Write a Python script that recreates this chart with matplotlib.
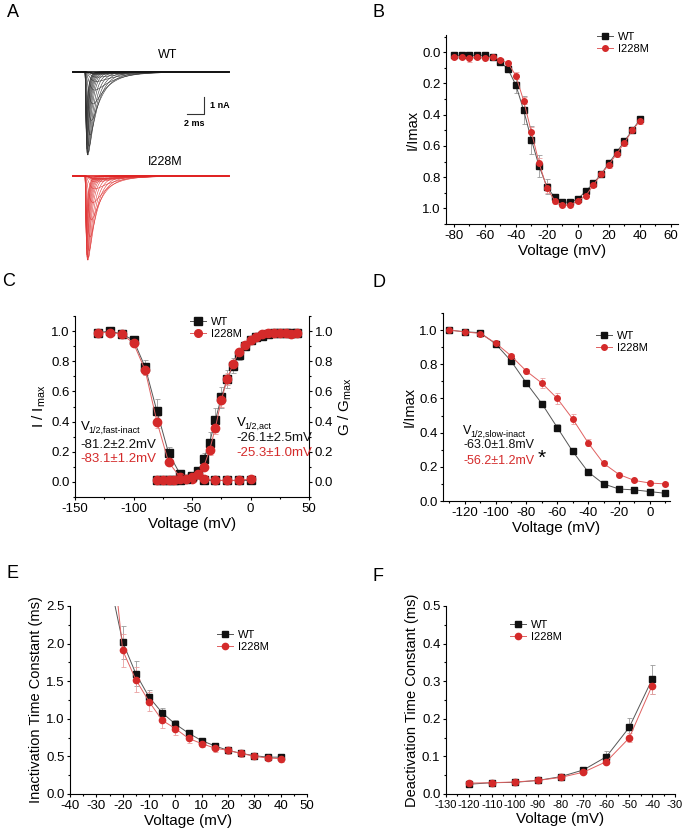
import matplotlib

matplotlib.use("Agg")
import matplotlib.pyplot as plt
import numpy as np
from matplotlib.lines import Line2D
from matplotlib.ticker import MultipleLocator

plt.rcParams["font.family"] = ["Liberation Sans", "DejaVu Sans"]
plt.rcParams["axes.unicode_minus"] = False

# ---- data -------------------------------------------------------------
# B: current-voltage relation (normalised, inward positive)
iv_v = [-80, -75, -70, -65, -60, -55, -50, -45, -40, -35, -30, -25, -20,
        -15, -10, -5, 0, 5, 10, 15, 20, 25, 30, 35, 40]
iv_wt = [0.02, 0.02, 0.02, 0.02, 0.02, 0.03, 0.06, 0.11, 0.21, 0.37, 0.56, 0.73, 0.86,
         0.93, 0.96, 0.96, 0.94, 0.89, 0.84, 0.78, 0.71, 0.64, 0.57, 0.50, 0.43]
iv_wt_err = [0.005, 0.005, 0.01, 0.005, 0.005, 0.005, 0.01, 0.02, 0.05, 0.09, 0.09, 0.07, 0.05,
             0.02, 0.01, 0.01, 0.01, 0.02, 0.02, 0.01, 0.01, 0.01, 0.01, 0.01, 0.01]
iv_mut = [0.03, 0.03, 0.04, 0.03, 0.04, 0.03, 0.05, 0.07, 0.15, 0.31, 0.51, 0.71, 0.87,
          0.95, 0.98, 0.98, 0.95, 0.92, 0.85, 0.78, 0.72, 0.65, 0.58, 0.50, 0.44]
iv_mut_err = [0.01, 0.01, 0.02, 0.01, 0.01, 0.01, 0.01, 0.01, 0.02, 0.02, 0.03, 0.03, 0.03,
              0.02, 0.01, 0.01, 0.01, 0.01, 0.01, 0.02, 0.02, 0.02, 0.02, 0.02, 0.02]

# A: raw current families, one sweep per voltage of the I-V protocol
imax_wt = 5.08   # nA
imax_mut = 5.04
tau_m = [0.5, 0.5, 0.5, 0.5, 0.5, 0.5, 0.5, 0.45, 0.4, 0.33, 0.27, 0.22, 0.18,
         0.15, 0.13, 0.11, 0.10, 0.09, 0.085, 0.08, 0.075, 0.07, 0.07, 0.065, 0.065]
tau_h = [4.0, 4.0, 4.0, 4.0, 3.8, 3.5, 3.2, 2.8, 2.3, 1.8, 1.4, 1.1, 0.9,
         0.75, 0.62, 0.52, 0.45, 0.40, 0.36, 0.33, 0.30, 0.28, 0.26, 0.25, 0.24]

# C: steady-state fast inactivation and activation
inact_v = [-130, -120, -110, -100, -90, -80, -70, -60, -50, -40, -30, -20, -10, 0]
inact_wt = [0.99, 1.00, 0.98, 0.94, 0.76, 0.47, 0.19, 0.05, 0.03, 0.01, 0.01, 0.01, 0.01, 0.01]
inact_wt_err = [0.01, 0.01, 0.01, 0.01, 0.05, 0.08, 0.04, 0.01, 0.01, 0.005, 0.005, 0.005, 0.005, 0.005]
inact_mut = [0.99, 0.99, 0.98, 0.92, 0.74, 0.40, 0.13, 0.03, 0.02, 0.02, 0.01, 0.01, 0.01, 0.02]
inact_mut_err = [0.01, 0.01, 0.01, 0.01, 0.03, 0.04, 0.02, 0.01, 0.01, 0.005, 0.005, 0.005, 0.005, 0.005]
act_v = iv_v
act_wt = [0.01, 0.01, 0.01, 0.01, 0.01, 0.02, 0.04, 0.07, 0.15, 0.26, 0.41, 0.56, 0.68,
          0.77, 0.84, 0.90, 0.94, 0.96, 0.97, 0.98, 0.99, 0.99, 0.99, 0.99, 0.99]
act_wt_err = [0.005, 0.005, 0.005, 0.005, 0.005, 0.005, 0.01, 0.01, 0.04, 0.07, 0.08, 0.07, 0.06,
              0.05, 0.03, 0.02, 0.01, 0.01, 0.01, 0.005, 0.005, 0.005, 0.005, 0.005, 0.005]
act_mut = [0.01, 0.01, 0.01, 0.01, 0.02, 0.02, 0.03, 0.05, 0.10, 0.21, 0.36, 0.54, 0.68,
           0.78, 0.86, 0.91, 0.94, 0.96, 0.98, 0.99, 0.99, 0.99, 0.99, 0.98, 0.99]
act_mut_err = [0.005, 0.005, 0.005, 0.005, 0.005, 0.005, 0.01, 0.01, 0.02, 0.03, 0.04, 0.04, 0.04,
               0.03, 0.02, 0.02, 0.01, 0.01, 0.01, 0.005, 0.005, 0.005, 0.005, 0.005, 0.005]

# D: slow inactivation
slow_v = [-130, -120, -110, -100, -90, -80, -70, -60, -50, -40, -30, -20, -10, 0, 10]
slow_wt = [1.00, 0.99, 0.985, 0.92, 0.82, 0.69, 0.57, 0.43, 0.29, 0.17, 0.10, 0.07, 0.065, 0.055, 0.045]
slow_wt_err = [0.005, 0.005, 0.01, 0.01, 0.01, 0.01, 0.01, 0.02, 0.015, 0.01, 0.005, 0.005, 0.005, 0.005, 0.005]
slow_mut = [1.00, 0.99, 0.98, 0.925, 0.85, 0.76, 0.69, 0.60, 0.48, 0.34, 0.22, 0.155, 0.12, 0.105, 0.10]
slow_mut_err = [0.005, 0.005, 0.01, 0.01, 0.01, 0.015, 0.03, 0.03, 0.03, 0.02, 0.015, 0.01, 0.01, 0.01, 0.01]

# E: inactivation time constant (the -25 mV point lies above the axis)
tinact_v = [-25, -20, -15, -10, -5, 0, 5, 10, 15, 20, 25, 30, 35, 40]
tinact_wt = [2.85, 2.02, 1.60, 1.29, 1.08, 0.93, 0.81, 0.71, 0.64, 0.58, 0.54, 0.51, 0.49, 0.49]
tinact_wt_err = [0.3, 0.22, 0.17, 0.09, 0.07, 0.05, 0.04, 0.04, 0.03, 0.03, 0.03, 0.02, 0.02, 0.02]
tinact_mut = [3.6, 1.91, 1.52, 1.23, 0.98, 0.87, 0.74, 0.67, 0.61, 0.58, 0.54, 0.50, 0.48, 0.47]
tinact_mut_err = [0.3, 0.22, 0.17, 0.12, 0.10, 0.08, 0.06, 0.05, 0.05, 0.05, 0.05, 0.03, 0.03, 0.04]

# F: deactivation time constant
tdeact_v = [-120, -110, -100, -90, -80, -70, -60, -50, -40]
tdeact_wt = [0.026, 0.030, 0.031, 0.036, 0.046, 0.064, 0.099, 0.177, 0.305]
tdeact_wt_err = [0.003, 0.003, 0.003, 0.003, 0.004, 0.006, 0.015, 0.026, 0.038]
tdeact_mut = [0.029, 0.030, 0.032, 0.036, 0.044, 0.058, 0.086, 0.149, 0.288]
tdeact_mut_err = [0.003, 0.003, 0.003, 0.003, 0.003, 0.005, 0.006, 0.012, 0.022]

labels = ["WT", "I228M"]

# ---- style ------------------------------------------------------------
BLK, BLK_LINE, BLK_ERR = "#111111", "#555555", "#9a9a9a"
RED, RED_LINE, RED_ERR = "#d42a2a", "#e06060", "#eaa0a0"
W, H = 685, 834


def px_axes(fig, left, top, right, bottom):
    return fig.add_axes([left / W, 1 - bottom / H, (right - left) / W, (bottom - top) / H])


def style(ax, spines=("left", "bottom")):
    for name, sp in ax.spines.items():
        sp.set_visible(name in spines)
        sp.set_linewidth(0.8)
    ax.tick_params(direction="out", length=2.5, width=0.8, labelsize=9.5, pad=1.5)
    ax.tick_params(which="minor", direction="out", length=1.5, width=0.8)


def series(ax, x, y, err, mcol, lcol, ecol, marker, ms):
    ax.errorbar(x, y, yerr=err, fmt="none", ecolor=ecol, elinewidth=0.6,
                capsize=1.8, capthick=0.6, zorder=2)
    ax.plot(x, y, color=lcol, lw=0.7, marker=marker, ms=ms, mfc=mcol, mec=mcol, zorder=3)


def legend(ax, left_px, top_px, ms):
    handles = [Line2D([], [], color=BLK_LINE, lw=0.7, marker="s", ms=ms, mfc=BLK, mec=BLK),
               Line2D([], [], color=RED_LINE, lw=0.7, marker="o", ms=ms, mfc=RED, mec=RED)]
    ax.legend(handles, labels, loc="upper left", frameon=False, fontsize=8,
              bbox_to_anchor=(left_px / W, 1 - top_px / H), bbox_transform=ax.figure.transFigure,
              borderpad=0, handlelength=1.5, handletextpad=0.4, labelspacing=0.25)


def v_half(ax, x, y, sub, size=9.5):
    ax.text(x, y, "V", fontsize=size, va="center", ha="left")
    ax.annotate(sub, (x, y), xytext=(5.5, -2.2), textcoords="offset points",
                fontsize=6.5, va="center", ha="left")


fig = plt.figure(figsize=(W / 100, H / 100), dpi=100)
for letter, x, y in [("A", 7, 4), ("B", 372, 4), ("C", 2, 273), ("D", 372, 274),
                     ("E", 7, 565), ("F", 372, 568)]:
    fig.text(x / W, 1 - y / H, letter, fontsize=13, va="top", ha="left")

# ---- A: current traces -------------------------------------------------
axA = px_axes(fig, 60, 40, 240, 275)
axA.axis("off")
axA.set_xlim(-1.5, 19.68)
axA.set_ylim(-11.94, 1.88)
t = np.linspace(0, 18.4, 3000)
onset = 1.44
s = np.clip(t - onset, 0, None)
for frac_wt, frac_mut, tm, th in zip(iv_wt, iv_mut, tau_m, tau_h):
    g = (1 - np.exp(-s / tm)) ** 3 * np.exp(-s / th)
    g = g / g.max()
    axA.plot(t, -imax_wt * frac_wt * g, color="#333333", lw=0.4)
    axA.plot(t, -6.12 - imax_mut * frac_mut * g, color="#e03a3a", lw=0.4)
axA.plot([0, 18.4], [0, 0], color="#111111", lw=1.2)
axA.plot([0, 18.4], [-6.12, -6.12], color="#e02020", lw=1.2)
axA.text(11.2, 1.0, "WT", ha="center", va="center", fontsize=9)
axA.text(10.85, -5.3, "I228M", ha="center", va="center", fontsize=9)
axA.plot([13.44, 15.44, 15.44], [-2.47, -2.47, -1.47], color="#333333", lw=0.8)
axA.text(16.2, -1.97, "1 nA", ha="left", va="center", fontsize=6.5, fontweight="bold")
axA.text(14.3, -2.75, "2 ms", ha="center", va="top", fontsize=6.5, fontweight="bold")

# ---- B: I-V -------------------------------------------------------------
axB = px_axes(fig, 446, 35, 678, 224)
style(axB)
series(axB, iv_v, iv_wt, iv_wt_err, BLK, BLK_LINE, BLK_ERR, "s", 4)
series(axB, iv_v, iv_mut, iv_mut_err, RED, RED_LINE, RED_ERR, "o", 4)
axB.set_xlim(-85, 64.5)
axB.set_ylim(1.1, -0.11)
axB.xaxis.set_major_locator(MultipleLocator(20))
axB.xaxis.set_minor_locator(MultipleLocator(10))
axB.yaxis.set_major_locator(MultipleLocator(0.2))
axB.yaxis.set_minor_locator(MultipleLocator(0.1))
axB.yaxis.set_major_formatter("{x:.1f}")
axB.set_xlabel("Voltage (mV)", fontsize=11, labelpad=2)
axB.set_ylabel("I/Imax", fontsize=10.5, labelpad=2)
legend(axB, 591, 26, 4)

# ---- C: activation / fast inactivation -----------------------------------
axC = px_axes(fig, 75, 316, 309, 497)
style(axC, ("left", "bottom", "right"))
series(axC, inact_v, inact_wt, inact_wt_err, BLK, BLK_LINE, BLK_ERR, "s", 5.5)
series(axC, inact_v, inact_mut, inact_mut_err, RED, RED_LINE, RED_ERR, "o", 6)
series(axC, act_v, act_wt, act_wt_err, BLK, BLK_LINE, BLK_ERR, "s", 5.5)
series(axC, act_v, act_mut, act_mut_err, RED, RED_LINE, RED_ERR, "o", 6)
axC.set_xlim(-150, 50)
axC.set_ylim(-0.1, 1.1)
axC.xaxis.set_major_locator(MultipleLocator(50))
axC.xaxis.set_minor_locator(MultipleLocator(25))
axC.yaxis.set_major_locator(MultipleLocator(0.2))
axC.yaxis.set_minor_locator(MultipleLocator(0.1))
axC.yaxis.set_major_formatter("{x:.1f}")
axC.set_xlabel("Voltage (mV)", fontsize=11, labelpad=2)
axC.set_ylabel(r"I / I$_{\mathregular{max}}$", fontsize=11, labelpad=2)
twC = axC.twinx()
twC.set_ylim(axC.get_ylim())
style(twC, ())
twC.yaxis.set_major_locator(MultipleLocator(0.2))
twC.yaxis.set_minor_locator(MultipleLocator(0.1))
twC.yaxis.set_major_formatter("{x:.1f}")
twC.set_ylabel(r"G / G$_{\mathregular{max}}$", fontsize=11, labelpad=2)
legend(axC, 184, 311, 5.5)

v_half(axC, -145, 0.364, "1/2,fast-inact")
axC.text(-145, 0.245, "-81.2±2.2mV", fontsize=9.5, color=BLK, va="center")
axC.text(-145, 0.152, "-83.1±1.2mV", fontsize=9.5, color=RED, va="center")
v_half(axC, -12, 0.39, "1/2,act")
axC.text(-12, 0.29, "-26.1±2.5mV", fontsize=9.5, color=BLK, va="center")
axC.text(-12, 0.19, "-25.3±1.0mV", fontsize=9.5, color=RED, va="center")

# ---- D: slow inactivation -----------------------------------------------
axD = px_axes(fig, 443, 313, 670, 501)
style(axD)
series(axD, slow_v, slow_wt, slow_wt_err, BLK, BLK_LINE, BLK_ERR, "s", 4)
series(axD, slow_v, slow_mut, slow_mut_err, RED, RED_LINE, RED_ERR, "o", 4)
axD.set_xlim(-134, 13)
axD.set_ylim(0, 1.1)
axD.xaxis.set_major_locator(MultipleLocator(20))
axD.xaxis.set_minor_locator(MultipleLocator(10))
axD.yaxis.set_major_locator(MultipleLocator(0.2))
axD.yaxis.set_minor_locator(MultipleLocator(0.1))
axD.yaxis.set_major_formatter("{x:.1f}")
axD.set_xlabel("Voltage (mV)", fontsize=11, labelpad=2)
axD.set_ylabel("I/Imax", fontsize=10.5, labelpad=2)
legend(axD, 590, 325, 4)
v_half(axD, -121, 0.41, "1/2,slow-inact", size=9)
axD.text(-121, 0.325, "-63.0±1.8mV", fontsize=9, color=BLK, va="center")
axD.text(-121, 0.235, "-56.2±1.2mV", fontsize=9, color=RED, va="center")
axD.text(-70, 0.25, "*", fontsize=15, va="center", ha="center")

# ---- E: inactivation time constant --------------------------------------
axE = px_axes(fig, 70, 606, 307, 794)
style(axE)
series(axE, tinact_v, tinact_wt, tinact_wt_err, BLK, BLK_LINE, BLK_ERR, "s", 4.5)
series(axE, tinact_v, tinact_mut, tinact_mut_err, RED, RED_LINE, RED_ERR, "o", 4.5)
axE.set_xlim(-40, 50)
axE.set_ylim(0, 2.5)
axE.xaxis.set_major_locator(MultipleLocator(10))
axE.xaxis.set_minor_locator(MultipleLocator(5))
axE.yaxis.set_major_locator(MultipleLocator(0.5))
axE.yaxis.set_minor_locator(MultipleLocator(0.25))
axE.yaxis.set_major_formatter("{x:.1f}")
axE.set_xlabel("Voltage (mV)", fontsize=11, labelpad=2)
axE.set_ylabel("Inactivation Time Constant (ms)", fontsize=10.5, labelpad=2)
legend(axE, 211, 624, 4.5)

# ---- F: deactivation time constant --------------------------------------
axF = px_axes(fig, 446, 606, 675, 794)
style(axF)
series(axF, tdeact_v, tdeact_wt, tdeact_wt_err, BLK, BLK_LINE, BLK_ERR, "s", 4.5)
series(axF, tdeact_v, tdeact_mut, tdeact_mut_err, RED, RED_LINE, RED_ERR, "o", 4.5)
axF.set_xlim(-130, -30)
axF.set_ylim(0, 0.5)
axF.xaxis.set_major_locator(MultipleLocator(10))
axF.xaxis.set_minor_locator(MultipleLocator(5))
axF.yaxis.set_major_locator(MultipleLocator(0.1))
axF.yaxis.set_minor_locator(MultipleLocator(0.05))
axF.yaxis.set_major_formatter("{x:.1f}")
axF.tick_params(axis="x", labelsize=8)
axF.set_xlabel("Voltage (mV)", fontsize=11, labelpad=2)
axF.set_ylabel("Deactivation Time Constant (ms)", fontsize=10.5, labelpad=2)
legend(axF, 504, 614, 4.5)

fig.savefig("out.png", dpi=100)
